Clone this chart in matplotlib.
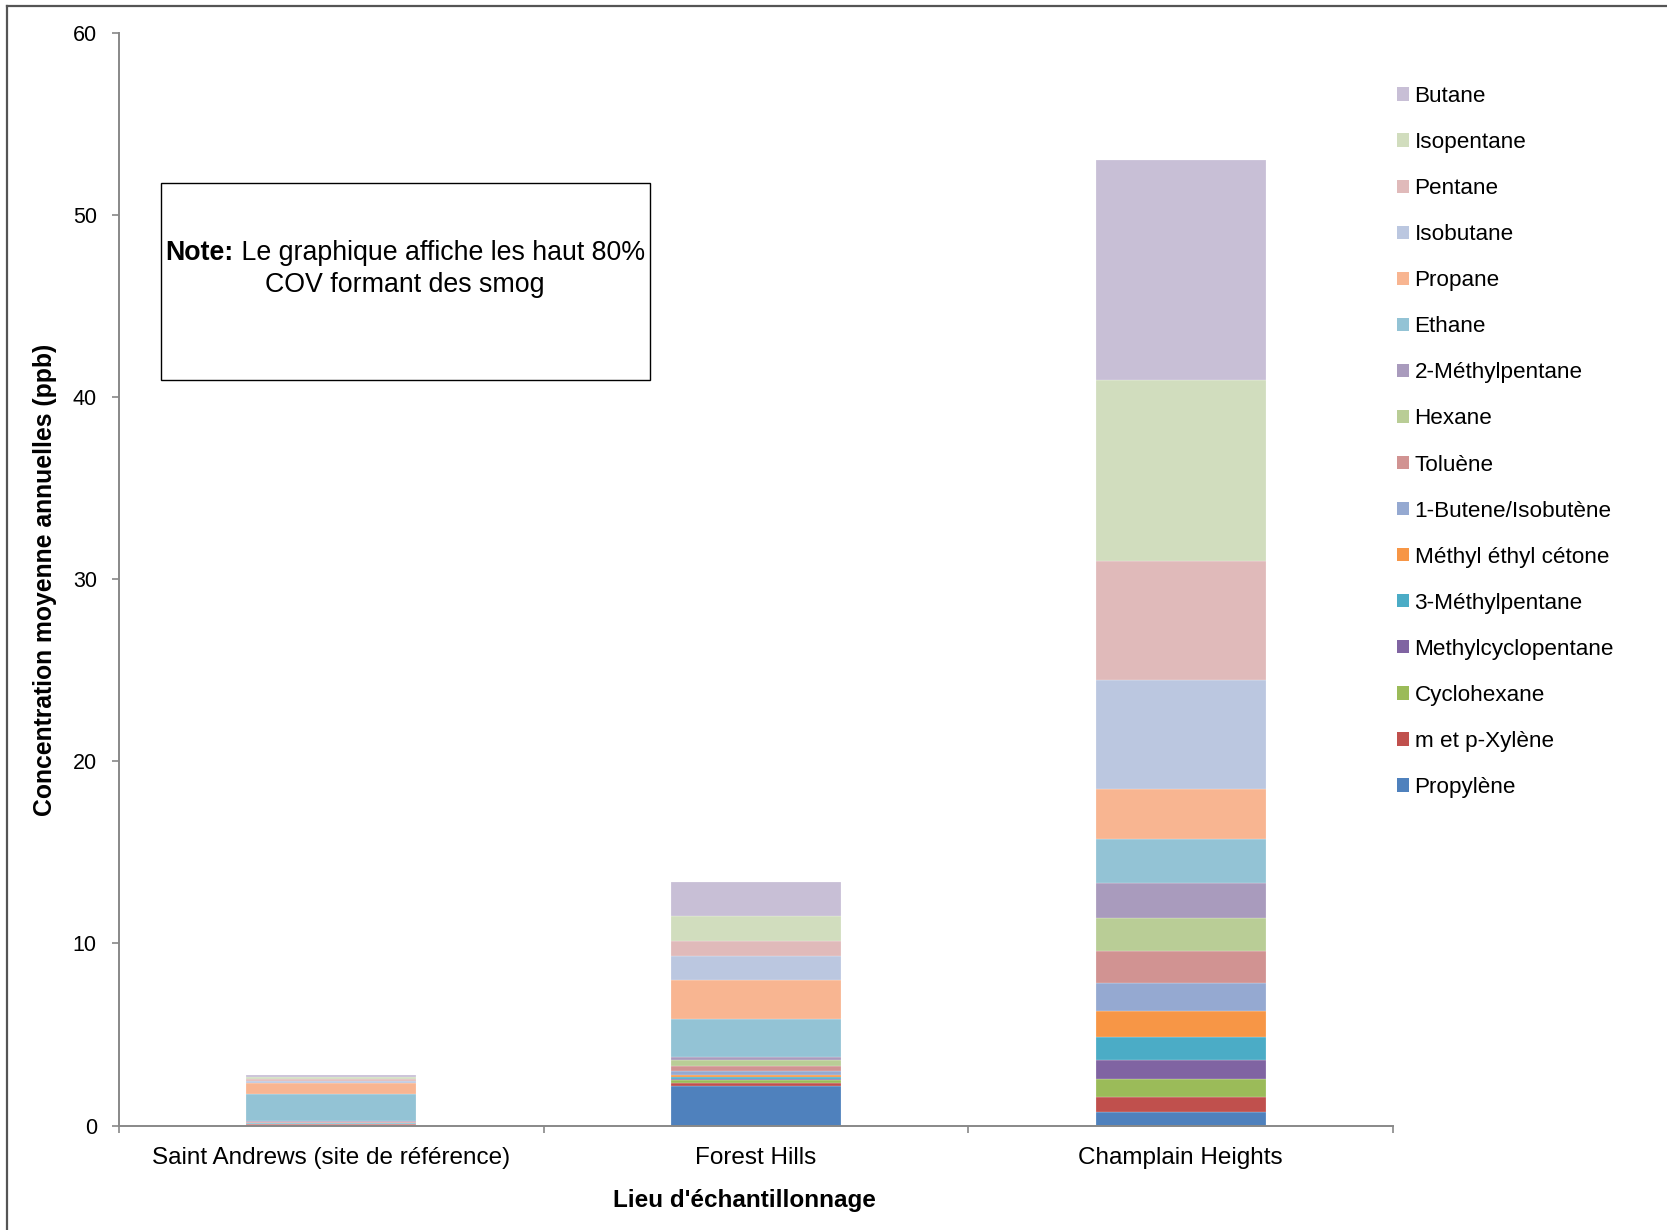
import numpy as np
import matplotlib
matplotlib.use("Agg")
import matplotlib.pyplot as plt
from matplotlib.patches import Rectangle, Patch
from matplotlib.lines import Line2D

plt.rcParams['font.family'] = ['Liberation Sans', 'DejaVu Sans']

# * Data (ppb), stacked from bottom to top

sites = ["Saint Andrews (site de référence)", "Forest Hills", "Champlain Heights"]

compounds = ["Propylène", "m et p-Xylène", "Cyclohexane", "Methylcyclopentane",
             "3-Méthylpentane", "Méthyl éthyl cétone", "1-Butene/Isobutène",
             "Toluène", "Hexane", "2-Méthylpentane", "Ethane", "Propane",
             "Isobutane", "Pentane", "Isopentane", "Butane"]

propylene   = [0.05, 2.16, 0.72]
xylene      = [0.02, 0.18, 0.82]
cyclohexane = [0.01, 0.15, 1.02]
mcp         = [0.01, 0.07, 1.03]
mp3         = [0.02, 0.11, 1.25]
mek         = [0.03, 0.09, 1.43]
butene      = [0.02, 0.22, 1.54]
toluene     = [0.03, 0.29, 1.76]
hexane      = [0.02, 0.31, 1.84]
mp2         = [0.02, 0.18, 1.92]
ethane      = [1.50, 2.09, 2.38]
propane     = [0.62, 2.16, 2.76]
isobutane   = [0.12, 1.32, 5.97]
pentane     = [0.08, 0.80, 6.56]
isopentane  = [0.10, 1.35, 9.97]
butane      = [0.14, 1.88, 12.07]

series = [propylene, xylene, cyclohexane, mcp, mp3, mek, butene, toluene,
          hexane, mp2, ethane, propane, isobutane, pentane, isopentane, butane]

colors = ["#4F81BD", "#C0504D", "#9BBB59", "#8064A2", "#4BACC6", "#F79646",
          "#95A9D1", "#D19392", "#B9CD96", "#A99BBD", "#93C3D5", "#F8B591",
          "#BBC7E0", "#E0BABA", "#D1DDBE", "#C8BFD6"]

# * Figure

W, H = 1667, 1230
fig = plt.figure(figsize=(W / 100, H / 100), dpi=100)
ax = fig.add_axes([119 / W, 1 - 1125.5 / H, (1393 - 119) / W, (1125.5 - 33) / H])

x = np.arange(len(sites))
bottom = np.zeros(len(sites))
for name, vals, col in zip(compounds, series, colors):
    ax.bar(x, vals, 0.4, bottom=bottom, color=col, edgecolor=(1, 1, 1, 0.5),
           linewidth=0.3, label=name)
    bottom += np.array(vals)

ax.set_xlim(-0.5, 2.5)
ax.set_ylim(0, 60)
ax.set_yticks(np.arange(0, 61, 10))
ax.set_xticks(x)
ax.set_xticklabels(sites)
ax.set_xticks([-0.5, 0.5, 1.5, 2.5], minor=True)

for s in ["top", "right"]:
    ax.spines[s].set_visible(False)
for s in ["left", "bottom"]:
    ax.spines[s].set_color("#888888")
    ax.spines[s].set_linewidth(1.4)

ax.tick_params(axis="y", length=5, width=1.2, color="#888888", labelsize=15.5, pad=11)
ax.tick_params(axis="x", which="major", length=0, labelsize=17.5, pad=15.5)
ax.tick_params(axis="x", which="minor", length=5, width=1.2, color="#888888")

fig.text(45 / W, 1 - 580 / H, "Concentration moyenne annuelles (ppb)",
         rotation=90, ha="center", va="center", fontsize=17.8, fontweight="bold")
fig.text(744 / W, 1 - 1200 / H, "Lieu d'échantillonnage",
         ha="center", va="center", fontsize=17.5, fontweight="bold")

# * Legend (reverse order, top = Butane)

handles = [Patch(facecolor=c, edgecolor="none") for c in colors][::-1]
fig.legend(handles, compounds[::-1], loc="upper left",
           bbox_to_anchor=(1397 / W, 1 - 86 / H), frameon=False, fontsize=16.2,
           handlelength=0.53, handleheight=0.53, handletextpad=0.25,
           labelspacing=1.114, borderpad=0, borderaxespad=0)

# * Note box

ax.add_patch(Rectangle((0.0326, 0.6828), 0.4165 - 0.0326, 0.8627 - 0.6828,
                       transform=ax.transAxes, fill=False, edgecolor="black",
                       linewidth=1.0, zorder=5))

fig.canvas.draw()
r = fig.canvas.get_renderer()
t1 = fig.text(0, 1 - 253 / H, "Note:", fontweight="bold", fontsize=19.3,
              ha="left", va="center")
t2 = fig.text(0, 1 - 253 / H, " Le graphique affiche les haut 80%", fontsize=19.3,
              ha="left", va="center")
w1 = t1.get_window_extent(r).width
w2 = t2.get_window_extent(r).width
x0 = 405 - (w1 + w2) / 2
t1.set_x(x0 / W)
t2.set_x((x0 + w1) / W)
fig.text(405 / W, 1 - 285 / H, "COV formant des smog", fontsize=19.3,
         ha="center", va="center")

# * Chart area border

fig.add_artist(Line2D([7 / W, 7 / W], [0, 1 - 6 / H], color="#555555", linewidth=1.6))
fig.add_artist(Line2D([7 / W, 1], [1 - 6 / H, 1 - 6 / H], color="#555555", linewidth=1.6))

fig.savefig("out.png", dpi=100)
